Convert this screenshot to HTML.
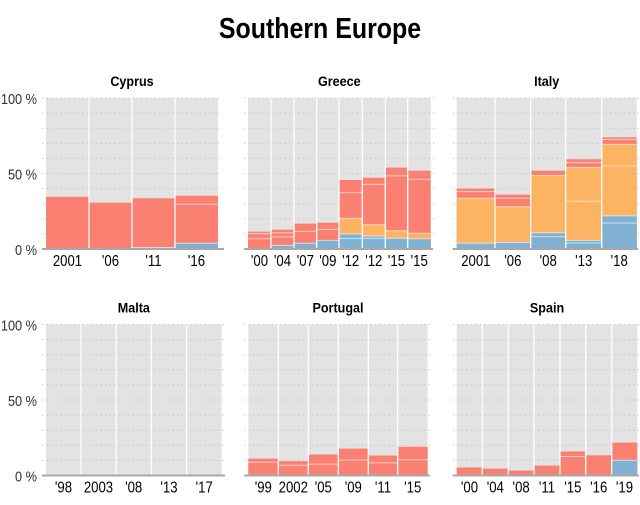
<!DOCTYPE html>
<html><head><meta charset="utf-8"><style>
body{margin:0;background:#fff;width:640px;height:500px;overflow:hidden}
svg text{font-family:"Liberation Sans",sans-serif}
</style></head><body>
<svg id="s" width="640" height="500" xmlns="http://www.w3.org/2000/svg"></svg>
<script>
const R='#fa8072',O='#fdb462',B='#80b1d3';
const panels=[
 {t:'Cyprus',b:[46,89,132,175,218],y0:249,x2:224,lab:['2001',"'06","'11","'16"],axis:true,
  bars:[[[R,34.6]],[[R,30.7]],[[B,1],[R,33.6]],[[B,3.8],[R,35.3,[29.6]]]]},
 {t:'Greece',b:[248,271,294,316.7,339,362.3,385.3,407.7,430.7],y0:249,x2:433,lab:["'00","'04","'07","'09","'12","'12","'15","'15"],
  bars:[[[R,11.5,[10.2,6.8]]],[[B,2.4],[R,12.8,[10.7,8]]],[[B,3.8],[R,16.8,[11.7]]],[[B,5.7],[R,17.4,[13]]],
  [[B,9.9,[7]],[O,20.3],[R,45.7,[37.3]]],[[B,8.6,[7]],[O,16.1],[R,47.2,[42.8]]],[[B,7.1],[O,12.1],[R,53.9,[48.4]]],[[B,6.8],[O,10.4],[R,51.9,[46.2]]]]},
 {t:'Italy',b:[456.7,495,530.7,565.7,601.7,636.7],y0:249,x2:638,lab:['2001',"'06","'08","'13","'18"],
  bars:[[[B,3.8],[O,33.6],[R,40,[38]]],[[B,4.4],[O,28],[R,36,[33.6]]],[[B,10.8,[8.2]],[O,48.6],[R,51.9]],
  [[B,5.7,[4]],[O,53.9,[31.6]],[R,59.4,[57.2]]],[[B,21.9,[17.2]],[O,69.3,[55]],[R,74,[72.6]]]]},
 {t:'Malta',b:[46,81,116,151.3,186.7,221.7],y0:475.5,x2:225,lab:["'98",'2003',"'08","'13","'17"],axis:true,bars:[[],[],[],[],[]]},
 {t:'Portugal',b:[248.3,278.3,308.3,338.3,368.3,397.7,427.7],y0:475.5,x2:430,lab:["'99",'2002',"'05","'09","'11","'15"],
  bars:[[[R,11.2,[8.8]]],[[R,9.5,[6.8]]],[[R,13.9,[7.5]]],[[R,17.8,[10.2]]],[[R,13.2,[8.4]]],[[R,19,[10.4]]]]},
 {t:'Spain',b:[456.7,482.3,508.3,534,560,585.7,611.7,637.3],y0:475.5,x2:639,lab:["'00","'04","'08","'11","'15","'16","'19"],
  bars:[[[R,5.3]],[[R,4.6]],[[R,3.3]],[[R,6.6]],[[R,15.9,[12.6]]],[[R,13.4]],[[B,10.1],[R,21.8]]]}
];
function sx(x,s){return `transform="translate(${x} 0) scale(${s} 1) translate(${-x} 0)"`;}
let h='<text x="320" y="38" text-anchor="middle" font-size="29" font-weight="bold" '+sx(320,0.86)+'>Southern Europe</text>';
const H=151;
for(const p of panels){
 const x1=p.b[0],x2=p.b[p.b.length-1],y0=p.y0,top=y0-H;
 h+=`<text x="${(x1+x2)/2}" y="${top-12}" text-anchor="middle" font-size="14" font-weight="bold" ${sx((x1+x2)/2,0.9)}>${p.t}</text>`;
 h+=`<rect x="${x1}" y="${top}" width="${x2-x1}" height="${H}" fill="#e3e3e3"/>`;
 for(let i=1;i<=10;i++){const y=y0-H*i/10;h+=`<line x1="${x1-4}" x2="${x2+4}" y1="${y}" y2="${y}" stroke="#c8c8c8" stroke-width="1" stroke-dasharray="1.5,3"/>`;}
 p.bars.forEach((st,i)=>{const a=p.b[i],w=p.b[i+1]-a;
  for(let k=st.length-1;k>=0;k--){const [c,v,ls]=st[k];const y=y0-H*v/100;
   h+=`<rect x="${a}" y="${y}" width="${w}" height="${y0-y}" fill="${c}"/>`;}
  for(let k=0;k<st.length;k++){const [c,v,ls]=st[k];
   if(k<st.length-1){const y=y0-H*v/100;h+=`<line x1="${a}" x2="${a+w}" y1="${y}" y2="${y}" stroke="#fff" stroke-opacity="0.6" stroke-width="1"/>`;}
   (ls||[]).forEach(l=>{const y=y0-H*l/100;h+=`<line x1="${a}" x2="${a+w}" y1="${y}" y2="${y}" stroke="#fff" stroke-opacity="0.6" stroke-width="1"/>`;});}
  h+=`<text x="${a+w/2}" y="${y0+17}" text-anchor="middle" font-size="15.5" ${sx(a+w/2,0.85)}>${p.lab[i]}</text>`;
 });
 for(let i=1;i<p.b.length-1;i++)h+=`<line x1="${p.b[i]}" x2="${p.b[i]}" y1="${top}" y2="${y0}" stroke="#fff" stroke-width="1.3"/>`;
 h+=`<line x1="${x1-4}" x2="${p.x2}" y1="${y0}" y2="${y0}" stroke="#a8a8a8" stroke-width="2"/>`;
 if(p.axis){[['100 %',100],['50 %',50],['0 %',0]].forEach(([t,v])=>{h+=`<text x="37" y="${y0-H*v/100+6}" text-anchor="end" font-size="15" fill="#333" ${sx(37,0.85)}>${t}</text>`;});}
}
document.getElementById('s').innerHTML=h;
</script>
</body></html>
